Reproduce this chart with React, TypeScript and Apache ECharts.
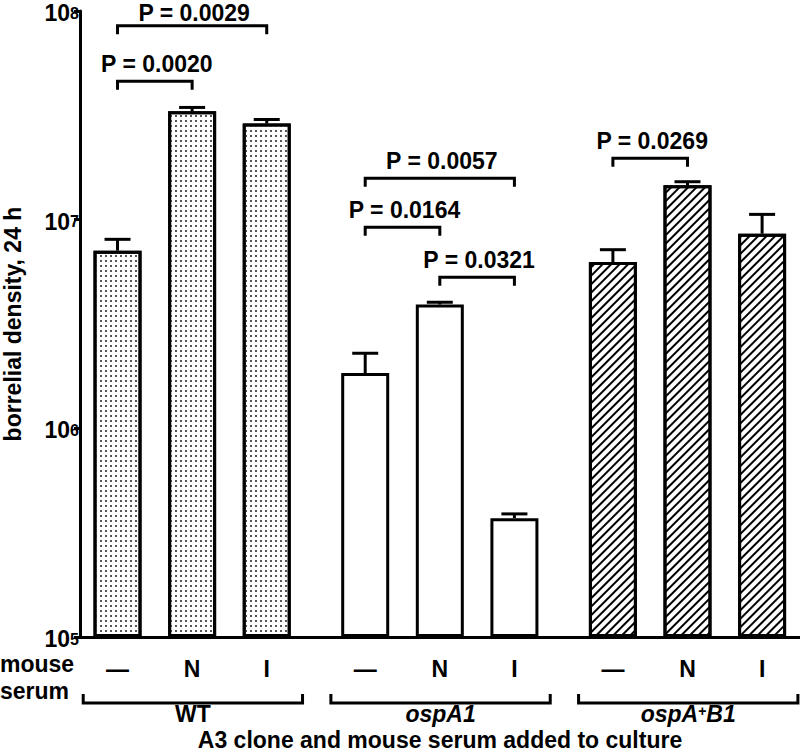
import React, { useEffect, useRef } from 'react';
import * as echarts from 'echarts';

// ---- data ----
const groups = ['WT', 'ospA1', 'ospA+B1'];
const serumLabels = ['—', 'N', 'I'];
const wtMeans = [7.1e6, 3.31e7, 2.89e7];
const wtUpper = [8.05e6, 3.45e7, 3.02e7];
const ospA1Means = [1.84e6, 3.92e6, 3.71e5];
const ospA1Upper = [2.29e6, 4.02e6, 3.89e5];
const ospAB1Means = [6.27e6, 1.46e7, 8.57e6];
const ospAB1Upper = [7.18e6, 1.52e7, 1.06e7];
const yTickExponents = [5, 6, 7, 8];

// pairwise comparisons (group index, bar from, bar to, bracket level, P value)
const compGroup = [0, 0, 1, 1, 1, 2];
const compFrom = [0, 0, 0, 0, 1, 0];
const compTo = [2, 1, 2, 1, 2, 1];
const compLevel = [8.5e7, 4.6e7, 1.58e7, 9.2e6, 5.3e6, 1.97e7];
const compP = ['0.0029', '0.0020', '0.0057', '0.0164', '0.0321', '0.0269'];

const yAxisName = 'borrelial density, 24 h';
const xAxisName = 'A3 clone and mouse serum added to culture';
const rowLabel = ['mouse', 'serum'];

// ---- layout helpers ----
const GROUP_GAP = 0.32;
const Y_MIN = Math.pow(10, yTickExponents[0]);
const Y_MAX = Math.pow(10, yTickExponents[yTickExponents.length - 1]);
const pos = (g: number, i: number) => 1 + i + g * (serumLabels.length + GROUP_GAP);
const FONT = '"Liberation Sans", Arial, Helvetica, sans-serif';
const FS = 23;
const boldFont = (s: number) => `bold ${s}px ${FONT}`;

const allPositions: number[] = [];
const allLabels: string[] = [];
groups.forEach((_, g) => serumLabels.forEach((l, i) => { allPositions.push(pos(g, i)); allLabels.push(l); }));

const richGroupName = (name: string) => {
  if (name === 'WT') return '{r|WT}';
  if (name.indexOf('+') >= 0) {
    const [a, b] = name.split('+');
    return `{i|${a}}{sup|+}{i|${b}}`;
  }
  return `{i|${name}}`;
};

export default function App() {
  const ref = useRef<HTMLDivElement>(null);
  useEffect(() => {
    document.body.style.margin = '0';
    const chart = echarts.init(ref.current!, undefined, { renderer: 'svg' });

    const seriesMeans = [wtMeans, ospA1Means, ospAB1Means];
    const seriesUpper = [wtUpper, ospA1Upper, ospAB1Upper];
    const decals: any[] = [
      { symbol: 'rect', symbolSize: 1, dashArrayX: [1.1, 2.1], dashArrayY: [1.1, 2.1], color: '#555' },
      null,
      { symbol: 'rect', symbolSize: 1, dashArrayX: [1, 0], dashArrayY: [2, 3.3], rotation: -Math.PI / 4, color: '#000' },
    ];

    const barSeries = groups.map((gName, g) => ({
      type: 'bar',
      name: gName,
      barWidth: 48,
      barGap: '-100%',
      data: seriesMeans[g].map((v, i) => [pos(g, i), v]),
      itemStyle: Object.assign(
        { color: '#fff', borderColor: '#000', borderWidth: 3 },
        decals[g] ? { decal: decals[g] } : {}
      ),
      z: 2,
    }));

    const errData: number[][] = [];
    groups.forEach((_, g) => seriesMeans[g].forEach((v, i) => errData.push([pos(g, i), v, seriesUpper[g][i]])));

    const compData = compP.map((_, k) => [
      pos(compGroup[k], compFrom[k]),
      pos(compGroup[k], compTo[k]),
      compLevel[k],
      k,
    ]);

    const groupData = groups.map((_, g) => [
      pos(g, 0) - 0.46,
      pos(g, serumLabels.length - 1) + 0.48,
      Y_MIN,
      g,
    ]);

    const option: any = {
      animation: false,
      textStyle: { fontFamily: FONT },
      grid: { left: 80, right: 0, top: 11, bottom: 116, containLabel: false, outerBoundsMode: 'none' },
      xAxis: {
        type: 'value',
        min: 0.497,
        max: 10.148,
        splitLine: { show: false },
        axisTick: { show: false },
        axisLine: { show: true, onZero: false, lineStyle: { color: '#000', width: 3 } },
        axisLabel: {
          show: true,
          customValues: allPositions,
          margin: 22,
          color: '#000',
          fontSize: FS,
          fontWeight: 'bold',
          fontFamily: FONT,
          lineHeight: 20,
          formatter: (v: number) => {
            let best = 0;
            allPositions.forEach((p, i) => { if (Math.abs(p - v) < Math.abs(allPositions[best] - v)) best = i; });
            return allLabels[best];
          },
        },
        name: xAxisName,
        nameLocation: 'middle',
        nameGap: 93,
        nameTextStyle: { color: '#000', fontSize: FS, fontWeight: 'bold', fontFamily: FONT, lineHeight: 20 },
      },
      yAxis: {
        type: 'log',
        logBase: 10,
        min: Y_MIN,
        max: Y_MAX,
        startValue: Y_MIN,
        splitLine: { show: false },
        minorTick: { show: false },
        axisLine: { show: true, lineStyle: { color: '#000', width: 3 } },
        axisTick: { show: true, length: 6, lineStyle: { color: '#000', width: 3 } },
        axisLabel: {
          margin: 1,
          color: '#000',
          formatter: (v: number) => `{b|10}{s|${Math.round(Math.log10(v))}}`,
          rich: {
            b: { fontSize: FS, fontWeight: 'bold', fontFamily: FONT, color: '#000', lineHeight: 18, padding: [4, 0, 0, 0] },
            s: { fontSize: 16, fontWeight: 'bold', fontFamily: FONT, color: '#000', lineHeight: 14, padding: [3, 0, 0, 0], verticalAlign: 'top' },
          },
        },
        name: yAxisName,
        nameLocation: 'middle',
        nameGap: 56,
        nameTextStyle: { color: '#000', fontSize: FS, fontWeight: 'bold', fontFamily: FONT },
      },
      graphic: rowLabel.map((t, k) => ({
        type: 'text',
        left: 0,
        top: 652 + k * 27,
        style: { text: t, font: boldFont(FS), fill: '#000' },
      })),
      series: [
        ...barSeries,
        {
          type: 'custom',
          name: 'error',
          coordinateSystem: 'cartesian2d',
          encode: { x: 0, y: [1, 2] },
          data: errData,
          z: 3,
          renderItem: (params: any, api: any) => {
            const x = api.value(0), v = api.value(1), u = api.value(2);
            const p0 = api.coord([x, v]);
            const p1 = api.coord([x, u]);
            const st = { stroke: '#000', lineWidth: 3 };
            return {
              type: 'group',
              children: [
                { type: 'line', shape: { x1: p0[0], y1: p0[1], x2: p1[0], y2: p1[1] }, style: st },
                { type: 'line', shape: { x1: p1[0] - 13, y1: p1[1], x2: p1[0] + 13, y2: p1[1] }, style: st },
              ],
            };
          },
        },
        {
          type: 'custom',
          name: 'comparisons',
          coordinateSystem: 'cartesian2d',
          encode: { x: [0, 1], y: 2 },
          data: compData,
          z: 4,
          renderItem: (params: any, api: any) => {
            const a = api.coord([api.value(0), api.value(2)]);
            const b = api.coord([api.value(1), api.value(2)]);
            const k = api.value(3);
            return {
              type: 'group',
              children: [
                {
                  type: 'polyline',
                  shape: { points: [[a[0], a[1] + 8.5], [a[0], a[1]], [b[0], b[1]], [b[0], b[1] + 8.5]] },
                  style: { stroke: '#000', lineWidth: 3, fill: 'none' },
                },
                {
                  type: 'text',
                  x: (a[0] + b[0]) / 2 + 2,
                  y: Math.max(a[1] - 17, 13),
                  style: {
                    text: 'P = ' + compP[k], font: boldFont(FS), fill: '#000',
                    align: 'center', verticalAlign: 'middle', lineHeight: 18,
                  },
                },
              ],
            };
          },
        },
        {
          type: 'custom',
          name: 'groups',
          coordinateSystem: 'cartesian2d',
          encode: { x: [0, 1], y: 2 },
          data: groupData,
          z: 4,
          renderItem: (params: any, api: any) => {
            const a = api.coord([api.value(0), api.value(2)]);
            const b = api.coord([api.value(1), api.value(2)]);
            const g = api.value(3);
            const yl = a[1] + 66;
            return {
              type: 'group',
              children: [
                {
                  type: 'polyline',
                  shape: { points: [[a[0], yl - 9], [a[0], yl], [b[0], yl], [b[0], yl - 9]] },
                  style: { stroke: '#000', lineWidth: 3, fill: 'none' },
                },
                {
                  type: 'text',
                  x: (a[0] + b[0]) / 2,
                  y: a[1] + 76.5,
                  style: {
                    text: richGroupName(groups[g]),
                    align: 'center',
                    verticalAlign: 'middle',
                    rich: {
                      r: { font: boldFont(FS), fill: '#000', lineHeight: 19 },
                      i: { font: `italic ${boldFont(FS)}`, fill: '#000', lineHeight: 19 },
                      sup: { font: boldFont(14), fill: '#000', lineHeight: 12, verticalAlign: 'top' },
                    },
                  },
                },
              ],
            };
          },
        },
      ],
    };
    chart.setOption(option);
    return () => chart.dispose();
  }, []);
  return <div ref={ref} style={{ width: 800, height: 753 }} />;
}
